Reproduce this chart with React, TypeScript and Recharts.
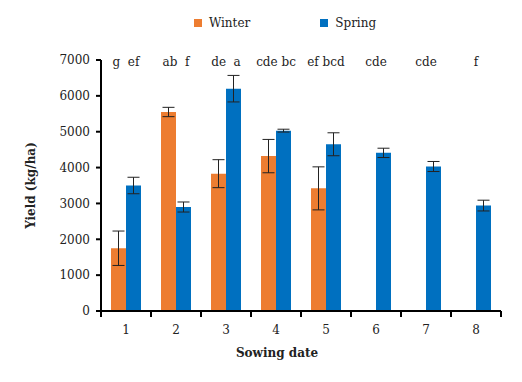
import {
  BarChart,
  Bar,
  XAxis,
  YAxis,
  Legend,
  ErrorBar
} from 'recharts'

const dates = ['1', '2', '3', '4', '5', '6', '7', '8']
const seriesNames = ['Winter', 'Spring']
const winter = [1750, 5550, 3830, 4320, 3420, null, null, null]
const winterErr = [480, 130, 390, 465, 600, null, null, null]
const spring = [3500, 2900, 6200, 5030, 4650, 4410, 4030, 2940]
const springErr = [230, 140, 370, 40, 320, 130, 140, 150]
const letters = ['g  ef', 'ab  f', 'de  a', 'cde bc', 'ef bcd', 'cde', 'cde', 'f']
const yTicks = [0, 1000, 2000, 3000, 4000, 5000, 6000, 7000]

const data = dates.map((date, i) => ({
  date,
  winter: winter[i],
  winterErr: winterErr[i],
  spring: spring[i],
  springErr: springErr[i]
}))

const FONT = '"DejaVu Serif", serif'
const WIDTH = 522
const HEIGHT = 382
const MARGIN = { top: 5, right: 21, bottom: 21, left: 20 }
const Y_AXIS_W = 81
const BAND = (WIDTH - MARGIN.left - MARGIN.right - Y_AXIS_W) / dates.length

const DateTick = (props: any) => {
  const { x, y, payload, index } = props
  const half = BAND / 2
  return (
    <g>
      <line x1={x - half} x2={x - half} y1={y} y2={y + 6} stroke='#000' strokeWidth={2} />
      {index === dates.length - 1 && (
        <line x1={x + half} x2={x + half} y1={y} y2={y + 6} stroke='#000' strokeWidth={2} />
      )}
      <text x={x} y={y + 19} dy='0.35em' textAnchor='middle' fontFamily={FONT} fontSize={12} fill='#222'>
        {payload.value}
      </text>
    </g>
  )
}

const LetterTick = (props: any) => {
  const { x, y, index } = props
  return (
    <text x={x} y={y + 2} dy='0.35em' textAnchor='middle' fontFamily={FONT} fontSize={12} fill='#222' style={{ whiteSpace: 'pre' }}>
      {letters[index]}
    </text>
  )
}

const LegendContent = (props: any) => {
  const items = [...(props.payload || [])].sort(
    (a: any, b: any) => seriesNames.indexOf(a.value) - seriesNames.indexOf(b.value)
  )
  return (
    <div style={{ display: 'flex', justifyContent: 'center', alignItems: 'center', gap: 70, height: 35, paddingLeft: 49, fontFamily: FONT, fontSize: 12, color: '#222' }}>
      {items.map((entry: any) => (
        <div key={entry.value} style={{ display: 'flex', alignItems: 'center', gap: 7 }}>
          <span style={{ width: 8, height: 8, background: entry.color, display: 'inline-block' }} />
          <span>{entry.value}</span>
        </div>
      ))}
    </div>
  )
}

const App = () => {
  return (
    <div style={{ position: 'fixed', left: 0, top: 0, width: WIDTH, height: HEIGHT, background: '#fff' }}>
      <BarChart
        width={WIDTH}
        height={HEIGHT}
        data={data}
        margin={MARGIN}
        barCategoryGap='20%'
        barGap={0}
      >
        <Legend verticalAlign='top' align='center' content={<LegendContent />} />
        <XAxis
          xAxisId='letters'
          orientation='top'
          dataKey='date'
          height={20}
          axisLine={false}
          tickLine={false}
          tickSize={0}
          tickMargin={0}
          tick={<LetterTick />}
          interval={0}
        />
        <XAxis
          dataKey='date'
          height={50}
          axisLine={{ stroke: '#000', strokeWidth: 2 }}
          tickLine={false}
          tickSize={0}
          tickMargin={0}
          tick={<DateTick />}
          interval={0}
          label={{ value: 'Sowing date', position: 'insideBottom', offset: 4, dx: -24, fontFamily: FONT, fontSize: 12, fontWeight: 'bold', fill: '#222' }}
        />
        <YAxis
          width={Y_AXIS_W}
          domain={[0, 7000]}
          ticks={yTicks}
          interval={0}
          axisLine={{ stroke: '#000', strokeWidth: 2 }}
          tickLine={{ stroke: '#000', strokeWidth: 2 }}
          tickSize={5}
          tickMargin={6}
          tick={{ fontFamily: FONT, fontSize: 12, fill: '#222' }}
          label={{ value: 'Yield (kg/ha)', angle: -90, position: 'center', dx: -30, fontFamily: FONT, fontSize: 12, fontWeight: 'bold', fill: '#222' }}
        />
        <Bar dataKey='winter' name='Winter' fill='#ED7D31' isAnimationActive={false}>
          <ErrorBar dataKey='winterErr' width={6} stroke='#222' strokeWidth={1} />
        </Bar>
        <Bar dataKey='spring' name='Spring' fill='#0070C0' isAnimationActive={false}>
          <ErrorBar dataKey='springErr' width={6} stroke='#222' strokeWidth={1} />
        </Bar>
      </BarChart>
    </div>
  )
}

export default App
